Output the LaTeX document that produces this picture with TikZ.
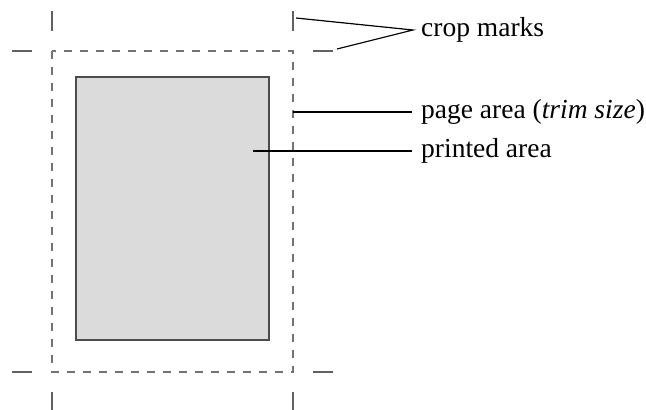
\documentclass[tikz,border=0pt]{standalone}
\usepackage{fontspec}
\setmainfont{Liberation Serif}
\begin{document}
\begin{tikzpicture}[x=1pt,y=-1pt,
  cropmark/.style={draw=black!62,line width=1.8pt},
  trimline/.style={draw=black!55,line width=1.5pt,dash pattern=on 8pt off 8pt},
  printbox/.style={draw=black!70,fill=black!14,line width=1.5pt},
  leader/.style={draw=black,line width=1.2pt},
  lbl/.style={anchor=west,inner sep=0pt,font=\fontsize{27.5}{30}\selectfont}]
\useasboundingbox (0,0) rectangle (646,410);
% trim (page) area
\draw[trimline] (52,51) rectangle (293,372);
% printed area
\draw[printbox] (76,77) rectangle (269,340);
% crop marks
\draw[cropmark] (52,11) -- (52,31);
\draw[cropmark] (293,11) -- (293,31);
\draw[cropmark] (52,392) -- (52,410);
\draw[cropmark] (293,392) -- (293,410);
\draw[cropmark] (12,51) -- (32,51);
\draw[cropmark] (313,51) -- (333,51);
\draw[cropmark] (12,372) -- (32,372);
\draw[cropmark] (313,372) -- (333,372);
% labels
\node[lbl] (crop) at (421,30) {crop marks};
\node[lbl] (page) at (421,112) {page area (\textit{trim size})};
\node[lbl] (print) at (421,151) {printed area};
\coordinate (c1) at (296,18);
\coordinate (c2) at (337,49);
\coordinate (p1) at (293,112);
\coordinate (q1) at (253,151);
\coordinate (cj) at (413,30);
\draw[leader] (c1) -- (cj) -- (c2);
\draw[leader] (p1) -- (page.west -| 412,0);
\draw[leader] (q1) -- (print.west -| 412,0);
\end{tikzpicture}
\end{document}
